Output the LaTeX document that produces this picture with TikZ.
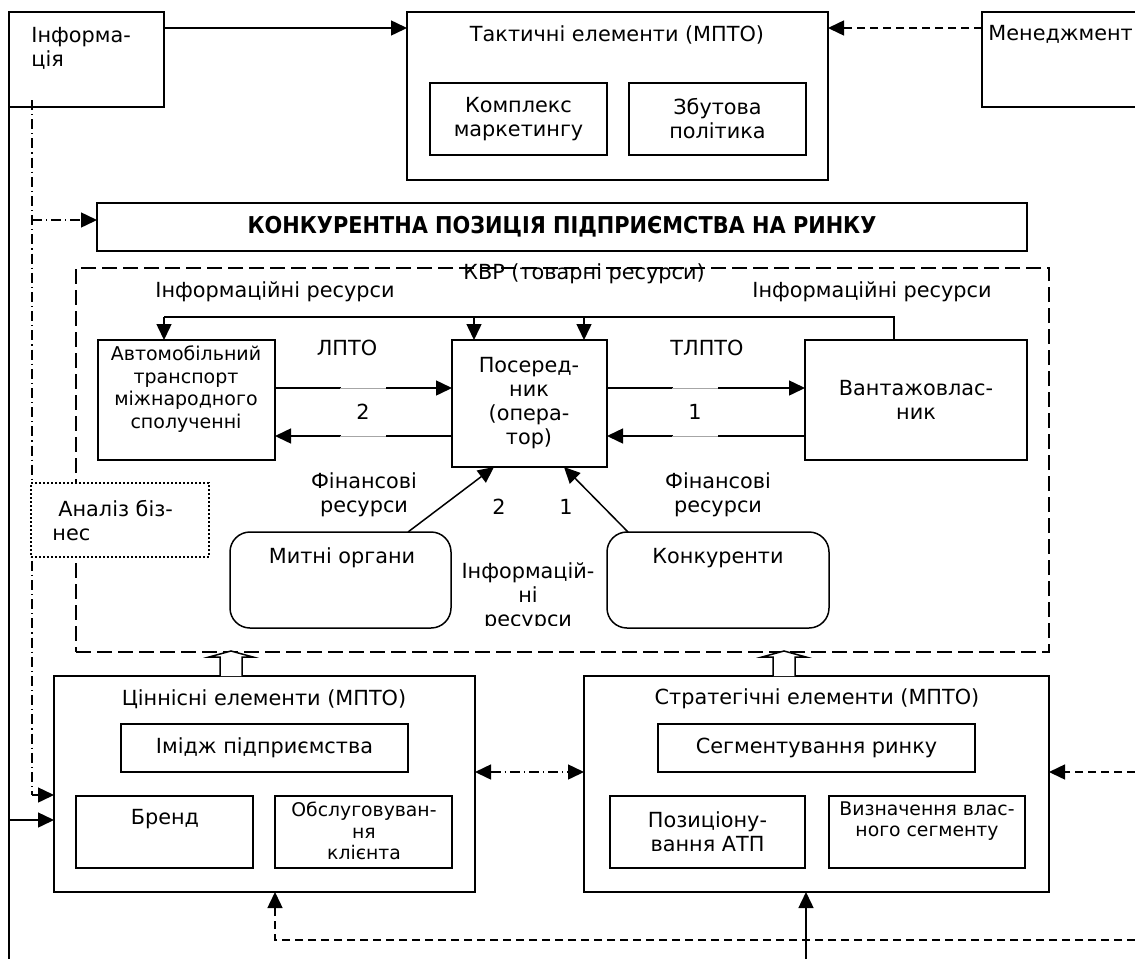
\documentclass[tikz,border=0pt]{standalone}
\usepackage{fontspec}
\setmainfont{DejaVu Sans}
\newfontfamily\titlefont{DejaVu Sans Condensed}
\usetikzlibrary{arrows.meta,fit}
\tikzset{
  box/.style={draw, line width=0.75pt, inner sep=0pt, outer sep=0pt},
  conn/.style={line width=0.75pt, -{Triangle[length=8pt,width=7.5pt]}},
  ln/.style={line width=0.75pt},
  dashbox/.style={draw, line width=0.75pt, dash pattern=on 7.5pt off 3pt},
  shortdash/.style={dash pattern=on 4pt off 2.5pt},
  dashdot/.style={dash pattern=on 5pt off 2pt on 0.6pt off 2pt},
  small/.style={font=\fontsize{9.5}{11.2}\selectfont},
  smaller/.style={font=\fontsize{9.4}{10.8}\selectfont},
  txt/.style={inner sep=0pt, align=center},
  hollow/.style={draw, line width=0.75pt, fill=white},
}
\begin{document}
\begin{tikzpicture}[x=0.5pt,y=-0.5pt, font=\fontsize{10.4}{12}\selectfont]
\useasboundingbox (0,0) rectangle (1135,959);
\fill[white] (0,0) rectangle (1135,959);

% top row
\node[box, fit={(9,12)(164,107)}] (info) {};
\node[txt, align=left, anchor=west] (infot) at (31,48) {Інформа-\\ція};
\node[box, fit={(407,12)(828,180)}] (tact) {};
\node[txt] (tactt) at (617,35) {Тактичні елементи (МПТО)};
\node[box, fit={(430,83)(607,155)}] (kompl) {};
\node[txt] at (kompl.center) {Комплекс\\маркетингу};
\node[box, fit={(629,83)(806,155)}] (zbut) {};
\node[txt] at (zbut.center) {Збутова\\політика};
\node[box, fit={(982,12)(1145,107)}] (men) {};
\node[txt, anchor=west] (ment) at (988,34) {Менеджмент};

\draw[conn] (info.east |- 0,28) -- (tact.west |- 0,28);
\draw[conn, shortdash] (men.west |- 0,28) -- (tact.east |- 0,28);

% competitive position
\node[box, fit={(97,203)(1027,251)}] (konk) {};
\node[txt, font=\titlefont\bfseries\fontsize{11.6}{13}\selectfont] at (konk.center) {КОНКУРЕНТНА ПОЗИЦІЯ ПІДПРИЄМСТВА НА РИНКУ};

% KVR dashed area
\node[dashbox, inner sep=0pt, outer sep=0pt, fit={(76,268)(1049,652)}] (kvr) {};
\node[txt] at (584,274) {КВР (товарні ресурси)};
\node[txt] at (275,292) {Інформаційні ресурси};
\node[txt] at (872,292) {Інформаційні ресурси};

\node[box, fit={(98,340)(275,460)}] (avto) {};
\node[txt, small] at (186,389) {Автомобільний\\транспорт\\міжнародного\\сполученні};
\node[box, fit={(452,340)(607,467)}] (pos) {};
\node[txt] at (529,403) {Посеред-\\ник\\(опера-\\тор)};
\node[box, fit={(805,340)(1027,460)}] (vant) {};
\node[txt] at (916,400) {Вантажовлас-\\ник};

\node[txt] at (347,348) {ЛПТО};
\node[txt] at (707,348) {ТЛПТО};

% info resources line
\draw[ln] (894,0 |- vant.north) -- (894,317) -- (164,317);
\draw[conn] (164,317) -- (164,0 |- avto.north);
\draw[conn] (474,317) -- (474,0 |- pos.north);
\draw[conn] (584,317) -- (584,0 |- pos.north);

% flows
\draw[conn] (avto.east |- 0,388) -- (pos.west |- 0,388);
\draw[conn] (pos.west |- 0,436) -- (avto.east |- 0,436);
\draw[conn] (pos.east |- 0,388) -- (vant.west |- 0,388);
\draw[conn] (vant.west |- 0,436) -- (pos.east |- 0,436);
\node[fill=white, minimum width=22.5pt, minimum height=26pt, inner sep=0pt] (g2) at (363,412) {2};
\node[fill=white, minimum width=22.5pt, minimum height=26pt, inner sep=0pt] (g1) at (695,412) {1};
\draw[gray!70, line width=0.3pt] (g2.west |- 0,388) -- (g2.east |- 0,388) (g2.west |- 0,436) -- (g2.east |- 0,436);
\draw[gray!70, line width=0.3pt] (g1.west |- 0,388) -- (g1.east |- 0,388) (g1.west |- 0,436) -- (g1.east |- 0,436);

\node[txt] at (364,495) {Фінансові\\ресурси};
\node[txt] at (718,495) {Фінансові\\ресурси};
\node[txt] at (499,507) {2};
\node[txt] at (566,507) {1};

\node[box, rounded corners=10pt, fit={(230,532)(451,628)}] (mytni) {};
\node[txt] at (342,558) {Митні органи};
\node[box, rounded corners=10pt, fit={(607,532)(829,628)}] (konkur) {};
\node[txt] at (718,558) {Конкуренти};
\draw[conn] (408,0 |- mytni.north) -- (494,0 |- pos.south);
\draw[conn] (628,0 |- konkur.north) -- (564,0 |- pos.south);
\begin{scope}
\clip (450,555) rectangle (605,625);
\node[txt] at (528,597) {Інформацій-\\ні\\ресурси};
\end{scope}

% left lines
\draw[ln] (info.south west) -- (9,959);
\draw[ln, dashdot] (32,100) -- (32,795);
\draw[conn, dashdot] (32,220) -- (konk.west |- 0,220);

% analysis box
\node[draw, line width=0.6pt, dash pattern=on 0.8pt off 1.2pt, fill=white, inner sep=0pt, fit={(31,483)(209,557)}] (anal) {};
\node[txt, align=left, anchor=west] at (52,521) {\hspace*{3pt}Аналіз біз-\\нес};

% bottom boxes
\node[box, fit={(54,676)(475,892)}] (cin) {};
\node[txt] at (264,699) {Ціннісні елементи (МПТО)};
\node[box, fit={(121,724)(408,772)}] (imidzh) {};
\node[txt] at (imidzh.center) {Імідж підприємства};
\node[box, fit={(76,796)(253,868)}] (brend) {};
\node[txt] at (165,819) {Бренд};
\node[box, fit={(275,796)(452,868)}] (obsl) {};
\node[txt, smaller] at (364,831) {Обслуговуван-\\ня\\клієнта};

\node[box, fit={(584,676)(1049,892)}] (str) {};
\node[txt] at (817,699) {Стратегічні елементи (МПТО)};
\node[box, fit={(658,724)(975,772)}] (segm) {};
\node[txt] at (segm.center) {Сегментування ринку};
\node[box, fit={(610,796)(805,868)}] (pozic) {};
\node[txt] at (pozic.center) {Позиціону-\\вання АТП};
\node[box, fit={(829,796)(1025,868)}] (vyzn) {};
\node[txt, smaller] at (927,821) {Визначення влас-\\ного сегменту};

% hollow arrows
\draw[hollow] (220,0 |- cin.north) -- (220,657) -- (209,657) -- (231,651) -- (253,657) -- (242,657) -- (242,0 |- cin.north);
\draw[hollow] (773,0 |- str.north) -- (773,657) -- (762,657) -- (784,651) -- (806,657) -- (795,657) -- (795,0 |- str.north);

% arrows into bottom boxes
\draw[conn, dashdot] (32,795) -- (cin.west |- 0,795);
\draw[conn] (9,820) -- (cin.west |- 0,820);
\draw[line width=0.75pt, dashdot, {Triangle[length=8pt,width=7.5pt]}-{Triangle[length=8pt,width=7.5pt]}] (cin.east |- 0,772) -- (str.west |- 0,772);
\coordinate (rin) at (1135,772);
\draw[conn, shortdash] (rin) -- (str.east |- 0,772);
\coordinate (rbot) at (1135,940);
\draw[conn, shortdash] (rbot) -- (275,940) -- (275,0 |- cin.south);
\coordinate (sbot) at (806,959);
\draw[conn] (sbot) -- (806,0 |- str.south);
\end{tikzpicture}
\end{document}
